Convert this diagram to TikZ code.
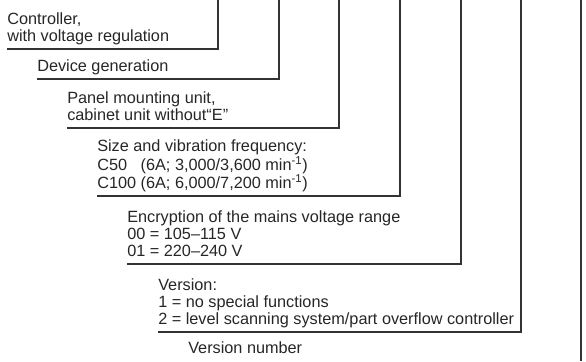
\documentclass[tikz,border=0pt]{standalone}
\usepackage{fontspec}
\setmainfont{Liberation Sans}
\usepackage{tikz}
\usetikzlibrary{calc}
\usetikzlibrary{positioning}

\begin{document}
\begin{tikzpicture}[x=0.75pt, y=-0.75pt,
  lbl/.style={anchor=south west, align=left, inner xsep=0pt, inner ysep=1.5pt,
    font=\fontsize{12.2}{12.75}\selectfont, text=black!85},
  lead/.style={draw=black!80, line width=0.8pt}]
\useasboundingbox (0,0) rectangle (586,361);
% top ends of the leads
\coordinate (ctrlT) at (218,0);
\coordinate (genT) at (279,0);
\coordinate (mountT) at (339,0);
\coordinate (sizeT) at (400,0);
\coordinate (voltT) at (461,0);
\coordinate (verT) at (521,0);
\coordinate (vnumT) at (581,0);
\coordinate (vnumB) at (581,361);
% labels
\node [lbl](ctrl) at (7,49) {Controller,\\with voltage regulation\strut};
\node [lbl](gen) at (37,79) {Device generation\strut};
\node [lbl](mount) at (67,128) {Panel mounting unit,\\cabinet unit without“E”\strut};
\node [lbl](size) at (97,196) {Size and vibration frequency:\\
  C50\phantom{0} (6A; 3,000/3,600 min\textsuperscript{-1})\\
  C100 (6A; 6,000/7,200 min\textsuperscript{-1})\strut};
\node [lbl](volt) at (127,264) {Encryption of the mains voltage range\\
  00 = 105–115 V\\01 = 220–240 V\strut};
\node [lbl](ver) at (158,332) {Version:\\1 = no special functions\\
  2 = level scanning system/part overflow controller\strut};
\node [lbl](vnum) at (188,361) {Version number\strut};
% leads
\draw [lead] (ctrl.south west) -| (ctrlT);
\draw [lead] (gen.south west) -| (genT);
\draw [lead] (mount.south west) -| (mountT);
\draw [lead] (size.south west) -| (sizeT);
\draw [lead] (volt.south west) -| (voltT);
\draw [lead] (ver.south west) -| (verT);
\draw [lead] (vnumT) -- (vnumB);
\end{tikzpicture}
\end{document}
